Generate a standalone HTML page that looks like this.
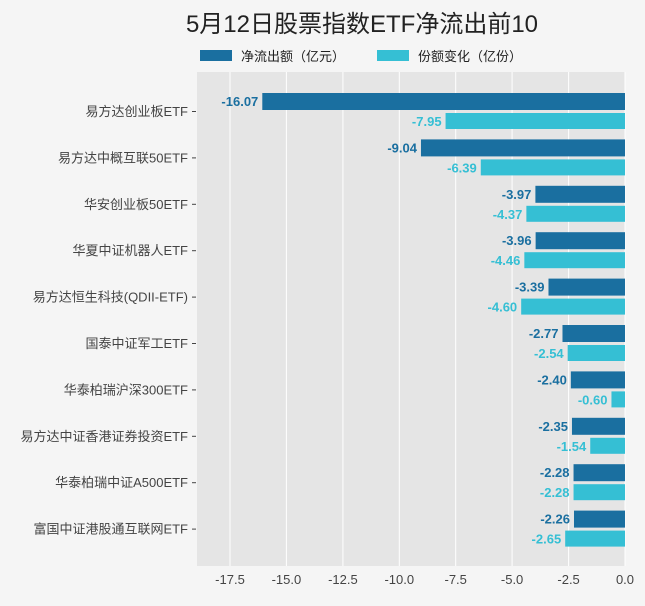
<!DOCTYPE html><html><head><meta charset="utf-8"><style>body{margin:0;background:#f5f5f5}svg{display:block;font-family:"Liberation Sans","Noto Sans CJK SC",sans-serif}</style></head><body>
<svg width="645" height="606" viewBox="0 0 645 606">
<rect width="645" height="606" fill="#f5f5f5"/>
<text x="362" y="32" font-size="24" text-anchor="middle" fill="#222">5月12日股票指数ETF净流出前10</text>
<rect x="200" y="50" width="32" height="11" fill="#1a6fa0"/><text x="241" y="61" font-size="13" fill="#222">净流出额（亿元）</text>
<rect x="377" y="50" width="32" height="11" fill="#35bfd4"/><text x="418" y="61" font-size="13" fill="#222">份额变化（亿份）</text>
<rect x="197" y="72" width="428" height="494" fill="#e5e5e5"/>
<g stroke="#fff" stroke-width="1">
<line x1="230" y1="72" x2="230" y2="566"/><line x1="286.4" y1="72" x2="286.4" y2="566"/><line x1="342.9" y1="72" x2="342.9" y2="566"/><line x1="399.3" y1="72" x2="399.3" y2="566"/><line x1="455.7" y1="72" x2="455.7" y2="566"/><line x1="512.1" y1="72" x2="512.1" y2="566"/><line x1="568.6" y1="72" x2="568.6" y2="566"/><line x1="625" y1="72" x2="625" y2="566"/>
</g>
<g font-size="13" fill="#444" text-anchor="middle">
<text x="230" y="584">-17.5</text><text x="286.4" y="584">-15.0</text><text x="342.9" y="584">-12.5</text><text x="399.3" y="584">-10.0</text><text x="455.7" y="584">-7.5</text><text x="512.1" y="584">-5.0</text><text x="568.6" y="584">-2.5</text><text x="625" y="584">0.0</text>
</g>
<g id="bars"></g>
</svg>
<script>
var d=[["易方达创业板ETF",-16.07,-7.95],["易方达中概互联50ETF",-9.04,-6.39],["华安创业板50ETF",-3.97,-4.37],["华夏中证机器人ETF",-3.96,-4.46],["易方达恒生科技(QDII-ETF)",-3.39,-4.60],["国泰中证军工ETF",-2.77,-2.54],["华泰柏瑞沪深300ETF",-2.40,-0.60],["易方达中证香港证券投资ETF",-2.35,-1.54],["华泰柏瑞中证A500ETF",-2.28,-2.28],["富国中证港股通互联网ETF",-2.26,-2.65]];
var s='';d.forEach(function(r,i){var y=93+46.4*i;var x1=625+r[1]*22.57,x2=625+r[2]*22.57;
s+='<rect x="'+x1+'" y="'+y+'" width="'+(625-x1)+'" height="17" fill="#1a6fa0"/>';
s+='<rect x="'+x2+'" y="'+(y+20)+'" width="'+(625-x2)+'" height="16" fill="#35bfd4"/>';
s+='<text x="'+(x1-4)+'" y="'+(y+13)+'" font-size="13" font-weight="bold" fill="#1a6fa0" text-anchor="end">'+r[1].toFixed(2)+'</text>';
s+='<text x="'+(x2-4)+'" y="'+(y+33)+'" font-size="13" font-weight="bold" fill="#35bfd4" text-anchor="end">'+r[2].toFixed(2)+'</text>';
s+='<text x="188" y="'+(y+23)+'" font-size="13" fill="#444" text-anchor="end">'+r[0]+'</text>';
s+='<line x1="192" x2="196" y1="'+(y+18.5)+'" y2="'+(y+18.5)+'" stroke="#444"/>';});
document.getElementById('bars').innerHTML=s;
</script>
</body></html>
